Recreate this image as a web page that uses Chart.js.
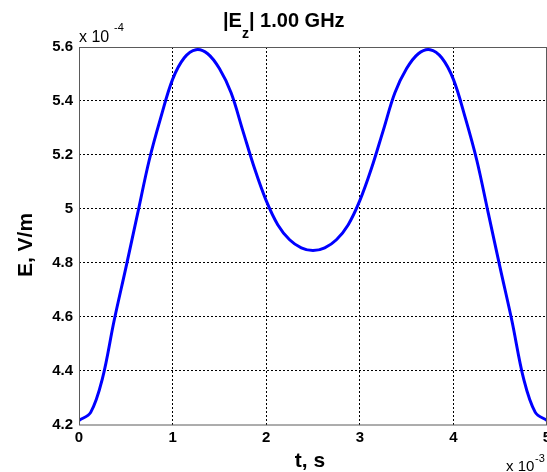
<!DOCTYPE html>
<html>
<head>
<meta charset="utf-8">
<script src="https://cdn.jsdelivr.net/npm/chart.js@4"></script>
<style>
  html, body { margin: 0; padding: 0; background: #fff; }
  #wrap { width: 547px; height: 472px; }
</style>
</head>
<body>
<div id="wrap"><canvas id="chart"></canvas></div>
<script>
// time, in units of 1e-3 s
const timeMs = [0, 0.125, 0.25, 0.375, 0.5, 0.625, 0.75, 0.875, 1.0, 1.125, 1.25, 1.375, 1.5, 1.625, 1.75, 1.875, 2.0, 2.125, 2.25, 2.375, 2.5,
  2.625, 2.75, 2.875, 3.0, 3.125, 3.25, 3.375, 3.5, 3.625, 3.75, 3.875, 4.0, 4.125, 4.25, 4.375, 4.5, 4.625, 4.75, 4.875, 5.0];
// |Ez|, in units of 1e-4 V/m
const fieldE4 = [4.215, 4.245, 4.37, 4.585, 4.78, 4.98, 5.18, 5.34, 5.48, 5.56, 5.59, 5.575, 5.52, 5.43, 5.29, 5.15, 5.03, 4.94, 4.885, 4.855, 4.845,
  4.855, 4.885, 4.94, 5.03, 5.15, 5.29, 5.43, 5.52, 5.575, 5.59, 5.56, 5.48, 5.34, 5.18, 4.98, 4.78, 4.585, 4.37, 4.245, 4.215];
const xTicks = [0, 1, 2, 3, 4, 5];
const yTicks = [4.2, 4.4, 4.6, 4.8, 5.0, 5.2, 5.4, 5.6];

const points = timeMs.map((t, i) => ({ x: t, y: fieldE4[i] }));
const FONT = '"Liberation Sans", Arial, sans-serif';

// MATLAB-style box, title and exponent labels
const decor = {
  id: 'decor',
  afterDraw(chart) {
    const { ctx, chartArea: a } = chart;
    ctx.save();
    ctx.strokeStyle = '#5a5a5a';
    ctx.lineWidth = 1;
    ctx.strokeRect(a.left + 0.5, a.top + 0.5, a.right - a.left - 1, a.bottom - a.top);
    ctx.fillStyle = '#000';
    ctx.textBaseline = 'alphabetic';

    // title |Ez| 1.00 GHz
    ctx.font = 'bold 20px ' + FONT;
    let x = 223;
    ctx.fillText('|E', x, 27);
    x += ctx.measureText('|E').width;
    ctx.font = 'bold 14px ' + FONT;
    ctx.fillText('z', x, 38);
    x += ctx.measureText('z').width;
    ctx.font = 'bold 20px ' + FONT;
    ctx.fillText('| 1.00 GHz', x, 27);

    // exponent labels
    ctx.font = '16px ' + FONT;
    ctx.fillText('x 10', 79, 42);
    ctx.font = '11px ' + FONT;
    ctx.fillText('-4', 114, 31);
    ctx.font = '15px ' + FONT;
    ctx.fillText('x 10', 506, 471);
    ctx.font = '11px ' + FONT;
    ctx.fillText('-3', 535, 462);

    // axis titles
    ctx.font = 'bold 21px ' + FONT;
    ctx.textAlign = 'center';
    ctx.fillText('t, s', 310, 467);
    ctx.translate(32, 245);
    ctx.rotate(-Math.PI / 2);
    ctx.fillText('E, V/m', 0, 0);
    ctx.restore();
  }
};

const gridColor = (ctx) => (ctx.index === 0 || ctx.index === ctx.chart.scales[ctx.scale.id].ticks.length - 1) ? 'rgba(0,0,0,0)' : '#000';

new Chart(document.getElementById('chart'), {
  type: 'line',
  data: {
    datasets: [{
      data: points,
      borderColor: '#0000ff',
      borderWidth: 3,
      pointRadius: 0,
      fill: false,
      tension: 0.35
    }]
  },
  options: {
    responsive: true,
    maintainAspectRatio: false,
    animation: false,
    layout: { padding: { top: 47, right: 0, left: 0, bottom: 0 } },
    plugins: { legend: { display: false }, title: { display: false }, tooltip: { enabled: false } },
    scales: {
      x: {
        type: 'linear',
        min: 0,
        max: 5,
        afterBuildTicks: (s) => { s.ticks = xTicks.map(v => ({ value: v })); },
        afterFit: (s) => { s.height = 47.5; s.paddingRight = 0; s.paddingLeft = 0; },
        ticks: { color: '#000', font: { family: FONT, size: 15, weight: 'bold' }, padding: 4, maxRotation: 0,
          callback: (v) => String(v) },
        grid: { color: gridColor, drawTicks: false, lineWidth: 1 },
        border: { display: false, dash: [2, 2] }
      },
      y: {
        type: 'linear',
        min: 4.2,
        max: 5.6,
        afterBuildTicks: (s) => { s.ticks = yTicks.map(v => ({ value: v })); },
        afterFit: (s) => { s.width = 79; s.paddingTop = 0; s.paddingBottom = 0; },
        ticks: { color: '#000', font: { family: FONT, size: 15, weight: 'bold' }, padding: 6,
          callback: (v) => String(Number(v.toFixed(1))) },
        grid: { color: gridColor, drawTicks: false, lineWidth: 1 },
        border: { display: false, dash: [2, 2] }
      }
    }
  },
  plugins: [decor]
});
</script>
</body>
</html>
